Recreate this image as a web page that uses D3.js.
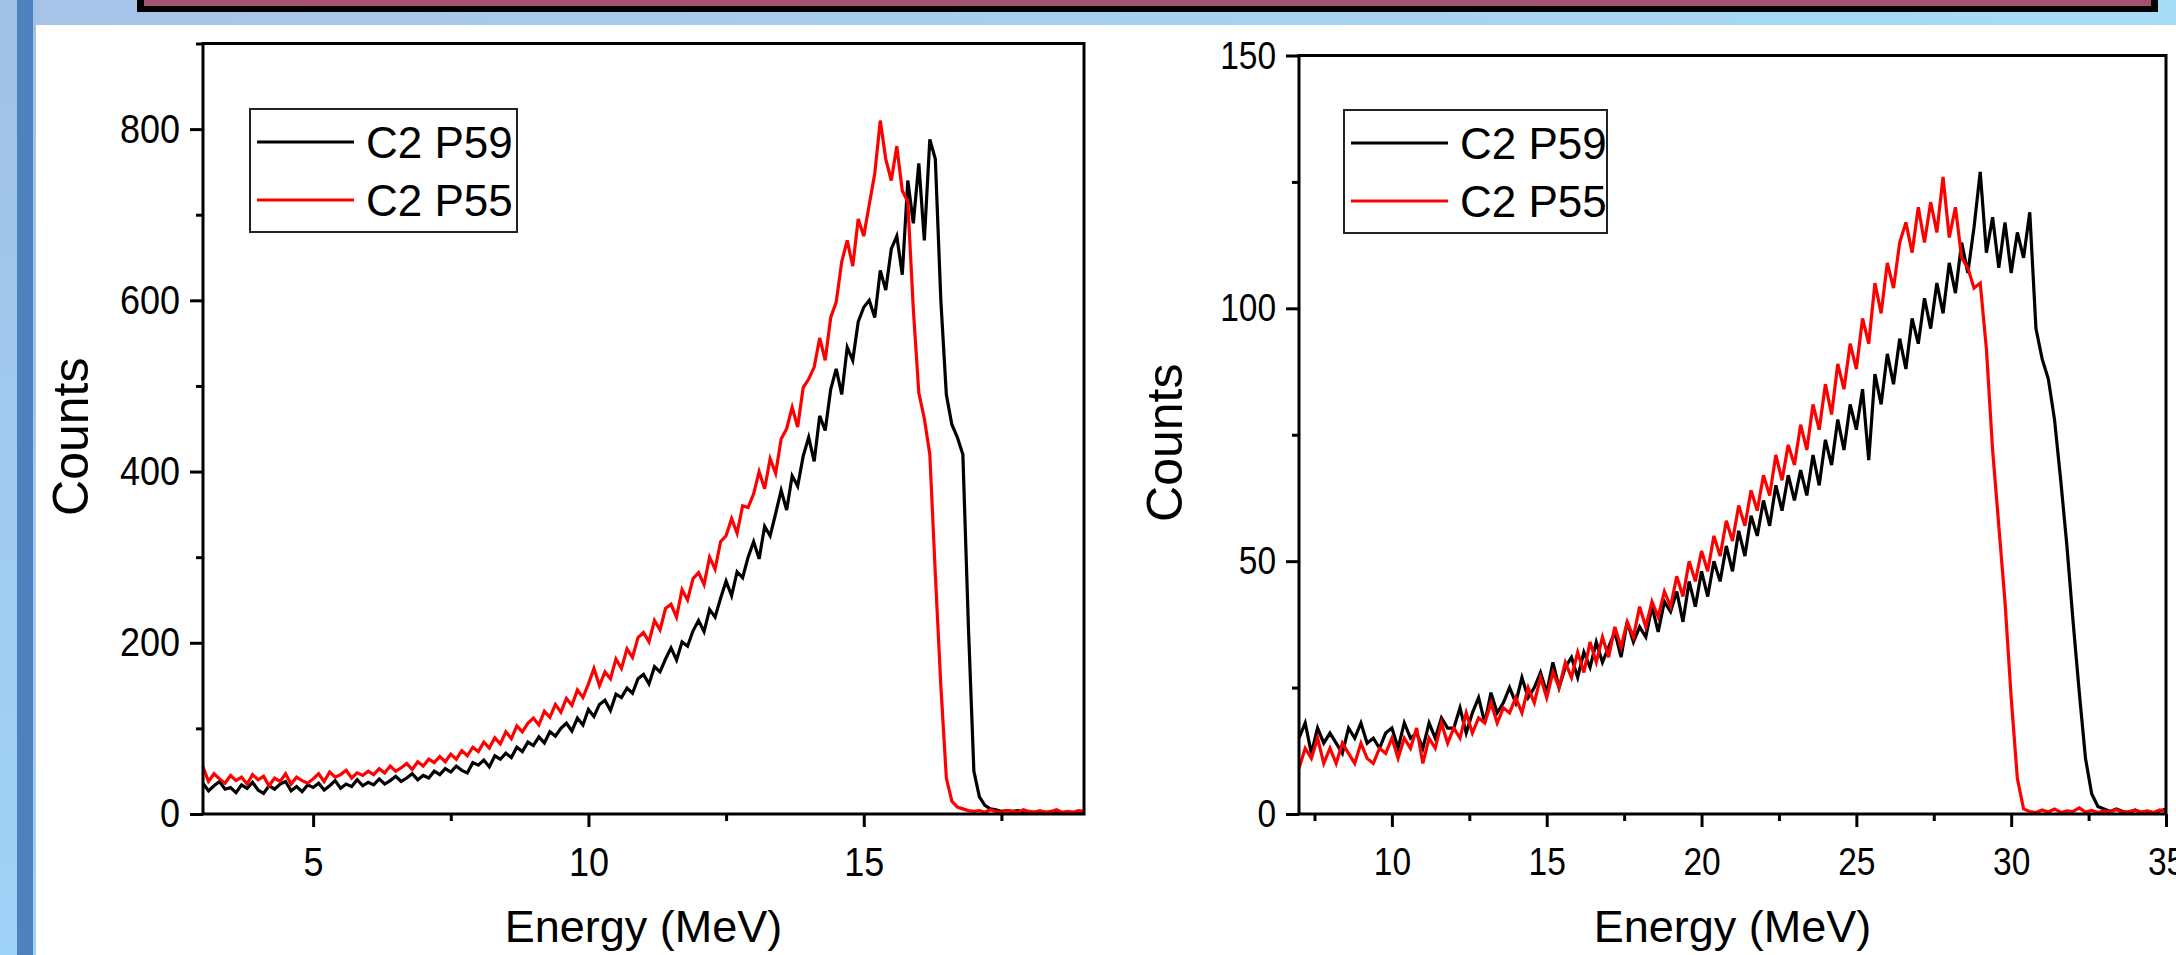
<!DOCTYPE html>
<html>
<head>
<meta charset="utf-8">
<script src="https://cdn.jsdelivr.net/npm/d3@7"></script>
<style>
  body { margin: 0; background: #fff; overflow: hidden; }
  svg { display: block; }
</style>
</head>
<body>
<svg id="chart" width="2176" height="955"></svg>
<script>
// DATA
// ****

const seriesNames = ["C2 P59", "C2 P55"]
const seriesColors = ["#000000", "#ff0000"]

// left panel: channels from 3.0 MeV, 0.1 MeV wide
const leftStart = 3.0, leftStep = 0.1
const leftP59 = [
  36,27,33,38,29,31,25,34,30,37,
  28,24,33,29,35,38,27,32,26,34,
  31,36,28,33,39,30,35,32,40,33,
  37,34,41,35,39,44,38,42,47,40,
  45,42,50,46,53,49,56,51,48,60,
  57,63,55,68,64,71,66,78,73,84,
  80,90,83,96,91,100,106,97,112,104,
  122,114,128,133,121,140,136,147,141,158,
  163,152,172,166,181,194,180,201,196,214,
  226,213,239,230,252,272,255,283,276,300,
  318,298,336,325,351,378,355,395,383,418,
  440,412,465,448,496,520,490,545,530,575,
  592,600,580,635,612,660,675,630,740,690,
  760,670,788,765,600,490,455,440,420,220,
  50,20,10,6,5,3,4,3,4,2,
  3,2,3,2,2,3,1,2,2,1,
  2
]
const leftP55 = [
  55,38,47,41,36,45,39,43,35,46,
  40,44,33,42,38,47,35,43,39,36,
  41,47,38,49,43,46,51,42,48,45,
  50,46,53,48,56,50,54,59,52,61,
  56,64,60,67,61,70,64,74,68,78,
  73,84,77,89,82,96,88,103,96,106,
  112,104,120,113,128,119,135,127,145,136,
  152,170,150,166,158,181,170,193,183,206,
  212,201,226,215,240,245,230,262,250,275,
  282,268,300,286,318,325,345,328,360,358,
  374,400,380,415,398,438,450,475,452,498,
  508,522,556,530,580,598,645,670,640,695,
  675,712,748,810,765,740,780,728,715,590,
  492,462,420,280,150,42,15,8,6,4,
  3,4,2,5,3,2,4,3,2,5,
  3,2,4,2,3,5,2,3,2,4,
  3
]

// right panel: channels from 7.0 MeV, 0.2 MeV wide
const rightStart = 7.0, rightStep = 0.2
const rightP59 = [
  15,18,12,17,14, 16,14,12,17,15, 18,14,15,13,16, 17,13,18,15,16,
  13,18,15,19,17, 17,21,16,20,23, 18,24,20,22,25, 22,27,23,25,28,
  24,30,25,29,31, 27,32,29,34,30, 33,36,31,38,34, 37,35,41,36,42,
  40,44,38,46,41, 48,43,50,46,53, 48,56,51,59,55, 62,57,65,60,67,
  62,68,63,71,65, 74,69,78,72,81, 76,84,70,87,81, 91,85,94,88,98,
  93,102,96,105,99, 109,103,113,107,116, 127,111,118,108,117, 107,115,110,119,96,
  90,86,78,66,53, 38,24,11,4,1.5, 1,0.5,1,0.5,0.3, 0.8,0.3,0.5,0.2,0.6,
  1
]
const rightP55 = [
  9,13,11,15,10, 13,10,14,12,10, 14,11,10,13,12, 15,11,15,13,17,
  10,15,13,18,14, 17,15,20,16,19, 18,22,18,21,20, 23,20,25,22,27,
  23,28,25,30,27, 32,28,34,30,35, 31,37,33,38,35, 41,37,42,39,44,
  41,47,43,50,46, 52,48,55,51,58, 54,61,57,64,60, 67,63,71,66,73,
  69,77,72,81,76, 85,79,89,84,93, 88,98,93,105,99, 109,104,113,117,111,
  120,113,121,115,126, 114,120,110,108,104, 105,92,72,57,42, 23,7,1,0.5,0.3,
  0.8,0.4,1,0.3,0.6, 0.5,1.2,0.4,0.7,0.3, 0.6,0.4,0.9,0.3,0.5, 0.7,0.4,0.6,0.3,0.8,
  0.5
]

// axis ticks
const leftXMajor = [5, 10, 15]
const leftXMinor = [7.5, 12.5, 17.5]
const leftYMajor = [0, 200, 400, 600, 800]
const leftYMinor = [100, 300, 500, 700, 900]
const rightXMajor = [10, 15, 20, 25, 30, 35]
const rightXMinor = [7.5, 12.5, 17.5, 22.5, 27.5, 32.5]
const rightYMajor = [0, 50, 100, 150]
const rightYMinor = [25, 75, 125]

const xTitle = "Energy (MeV)"
const yTitle = "Counts"

// helpers
function toPoints(start, step, values) {
  return values.map((v, i) => ({ e: start + i * step, c: v }))
}

const FONT = "'Liberation Sans', Arial, sans-serif"
const svg = d3.select("#chart")

// BACKGROUND (slide frame)
// ************************
const defs = svg.append("defs")
const topGrad = defs.append("linearGradient").attr("id", "topGrad")
topGrad.append("stop").attr("offset", "0%").attr("stop-color", "#a7c3e8")
topGrad.append("stop").attr("offset", "100%").attr("stop-color", "#a6dcf6")
const sideGrad = defs.append("linearGradient").attr("id", "sideGrad")
  .attr("x1", 0).attr("y1", 0).attr("x2", 0).attr("y2", 1)
sideGrad.append("stop").attr("offset", "0%").attr("stop-color", "#a2c1e6")
sideGrad.append("stop").attr("offset", "100%").attr("stop-color", "#9fd3f7")

svg.append("rect").attr("x", 0).attr("y", 0).attr("width", 2176).attr("height", 25).attr("fill", "url(#topGrad)")
svg.append("rect").attr("x", 0).attr("y", 0).attr("width", 36).attr("height", 955).attr("fill", "url(#sideGrad)")
svg.append("rect").attr("x", 17).attr("y", 0).attr("width", 16).attr("height", 955).attr("fill", "#4f81bd")
svg.append("rect").attr("x", 137).attr("y", 0).attr("width", 2021).attr("height", 12).attr("fill", "#000")
svg.append("rect").attr("x", 144).attr("y", 0).attr("width", 2007).attr("height", 6).attr("fill", "#a5526f")

// PANELS
// ******
function drawPanel(p) {
  const g = svg.append("g")

  const x = d3.scaleLinear().domain(p.xDomain).range([p.left, p.right])
  const y = d3.scaleLinear().domain(p.yDomain).range([p.bottom, p.top])

  // curves
  const line = d3.line().x(d => x(d.e)).y(d => y(d.c))
  p.series.forEach((s, i) => {
    g.append("path")
      .datum(s)
      .attr("fill", "none")
      .attr("stroke", seriesColors[i])
      .attr("stroke-width", 3.2)
      .attr("stroke-linejoin", "miter")
      .attr("d", line)
  })

  // axes
  const styleAxis = (a, scaleY, baseY) => {
    a.select(".domain").remove()
    a.selectAll("line").attr("stroke", "#000").attr("stroke-width", 3)
    a.attr("font-family", FONT).attr("font-size", p.tickFont)
    a.selectAll("text").attr("fill", "#000")
      .attr("transform", `scale(1,${scaleY})`)
    if (baseY !== undefined) a.selectAll("text").attr("y", baseY / scaleY)
  }

  g.append("g").attr("transform", `translate(0,${p.bottom})`)
    .call(d3.axisBottom(x).tickValues(p.xMinor).tickSizeInner(7).tickSizeOuter(0).tickFormat(""))
    .call(a => styleAxis(a, 1))
  g.append("g").attr("transform", `translate(0,${p.bottom})`)
    .call(d3.axisBottom(x).tickValues(p.xMajor).tickSizeInner(13).tickSizeOuter(0).tickPadding(20).tickFormat(d3.format("d")))
    .call(a => styleAxis(a, p.tickStretch, 33))

  g.append("g").attr("transform", `translate(${p.left},0)`)
    .call(d3.axisLeft(y).tickValues(p.yMinor).tickSizeInner(7).tickSizeOuter(0).tickFormat(""))
    .call(a => styleAxis(a, 1))
  g.append("g").attr("transform", `translate(${p.left},0)`)
    .call(d3.axisLeft(y).tickValues(p.yMajor).tickSizeInner(13).tickSizeOuter(0).tickPadding(10).tickFormat(d3.format("d")))
    .call(a => styleAxis(a, p.tickStretch))

  // frame
  g.append("rect")
    .attr("x", p.left).attr("y", p.top)
    .attr("width", p.right - p.left).attr("height", p.bottom - p.top)
    .attr("fill", "none").attr("stroke", "#000").attr("stroke-width", 3)

  // titles
  g.append("text")
    .attr("transform", `translate(${p.yTitleX},${(p.top + p.bottom) / 2 + 8}) rotate(-90)`)
    .attr("text-anchor", "middle")
    .attr("font-family", FONT).attr("font-size", 50)
    .text(yTitle)
  g.append("text")
    .attr("x", (p.left + p.right) / 2).attr("y", 942)
    .attr("text-anchor", "middle")
    .attr("font-family", FONT).attr("font-size", 45)
    .text(xTitle)

  // legend
  const lg = g.append("g").attr("transform", `translate(${p.legX},${p.legY})`)
  lg.append("rect").attr("width", p.legW).attr("height", 123)
    .attr("fill", "#fff").attr("stroke", "#222").attr("stroke-width", 2)
  seriesNames.forEach((name, i) => {
    const ly = 33 + i * 58
    lg.append("line").attr("x1", 7).attr("x2", 104).attr("y1", ly).attr("y2", ly)
      .attr("stroke", seriesColors[i]).attr("stroke-width", 3)
    lg.append("text").attr("x", 116).attr("y", ly + 16)
      .attr("font-family", FONT).attr("font-size", 44)
      .text(name)
  })
}

drawPanel({
  left: 203, right: 1084, top: 43.5, bottom: 814,
  xDomain: [3, 19], yDomain: [0, 900],
  xMajor: leftXMajor, xMinor: leftXMinor, yMajor: leftYMajor, yMinor: leftYMinor,
  series: [toPoints(leftStart, leftStep, leftP59), toPoints(leftStart, leftStep, leftP55)],
  tickFont: 36, tickStretch: 1.12,
  yTitleX: 88, legX: 250, legY: 109, legW: 267
})

drawPanel({
  left: 1299, right: 2166, top: 55.5, bottom: 814,
  xDomain: [7, 35], yDomain: [0, 150],
  xMajor: rightXMajor, xMinor: rightXMinor, yMajor: rightYMajor, yMinor: rightYMinor,
  series: [toPoints(rightStart, rightStep, rightP59), toPoints(rightStart, rightStep, rightP55)],
  tickFont: 33.5, tickStretch: 1.17,
  yTitleX: 1182, legX: 1344, legY: 110, legW: 263
})
</script>
</body>
</html>
